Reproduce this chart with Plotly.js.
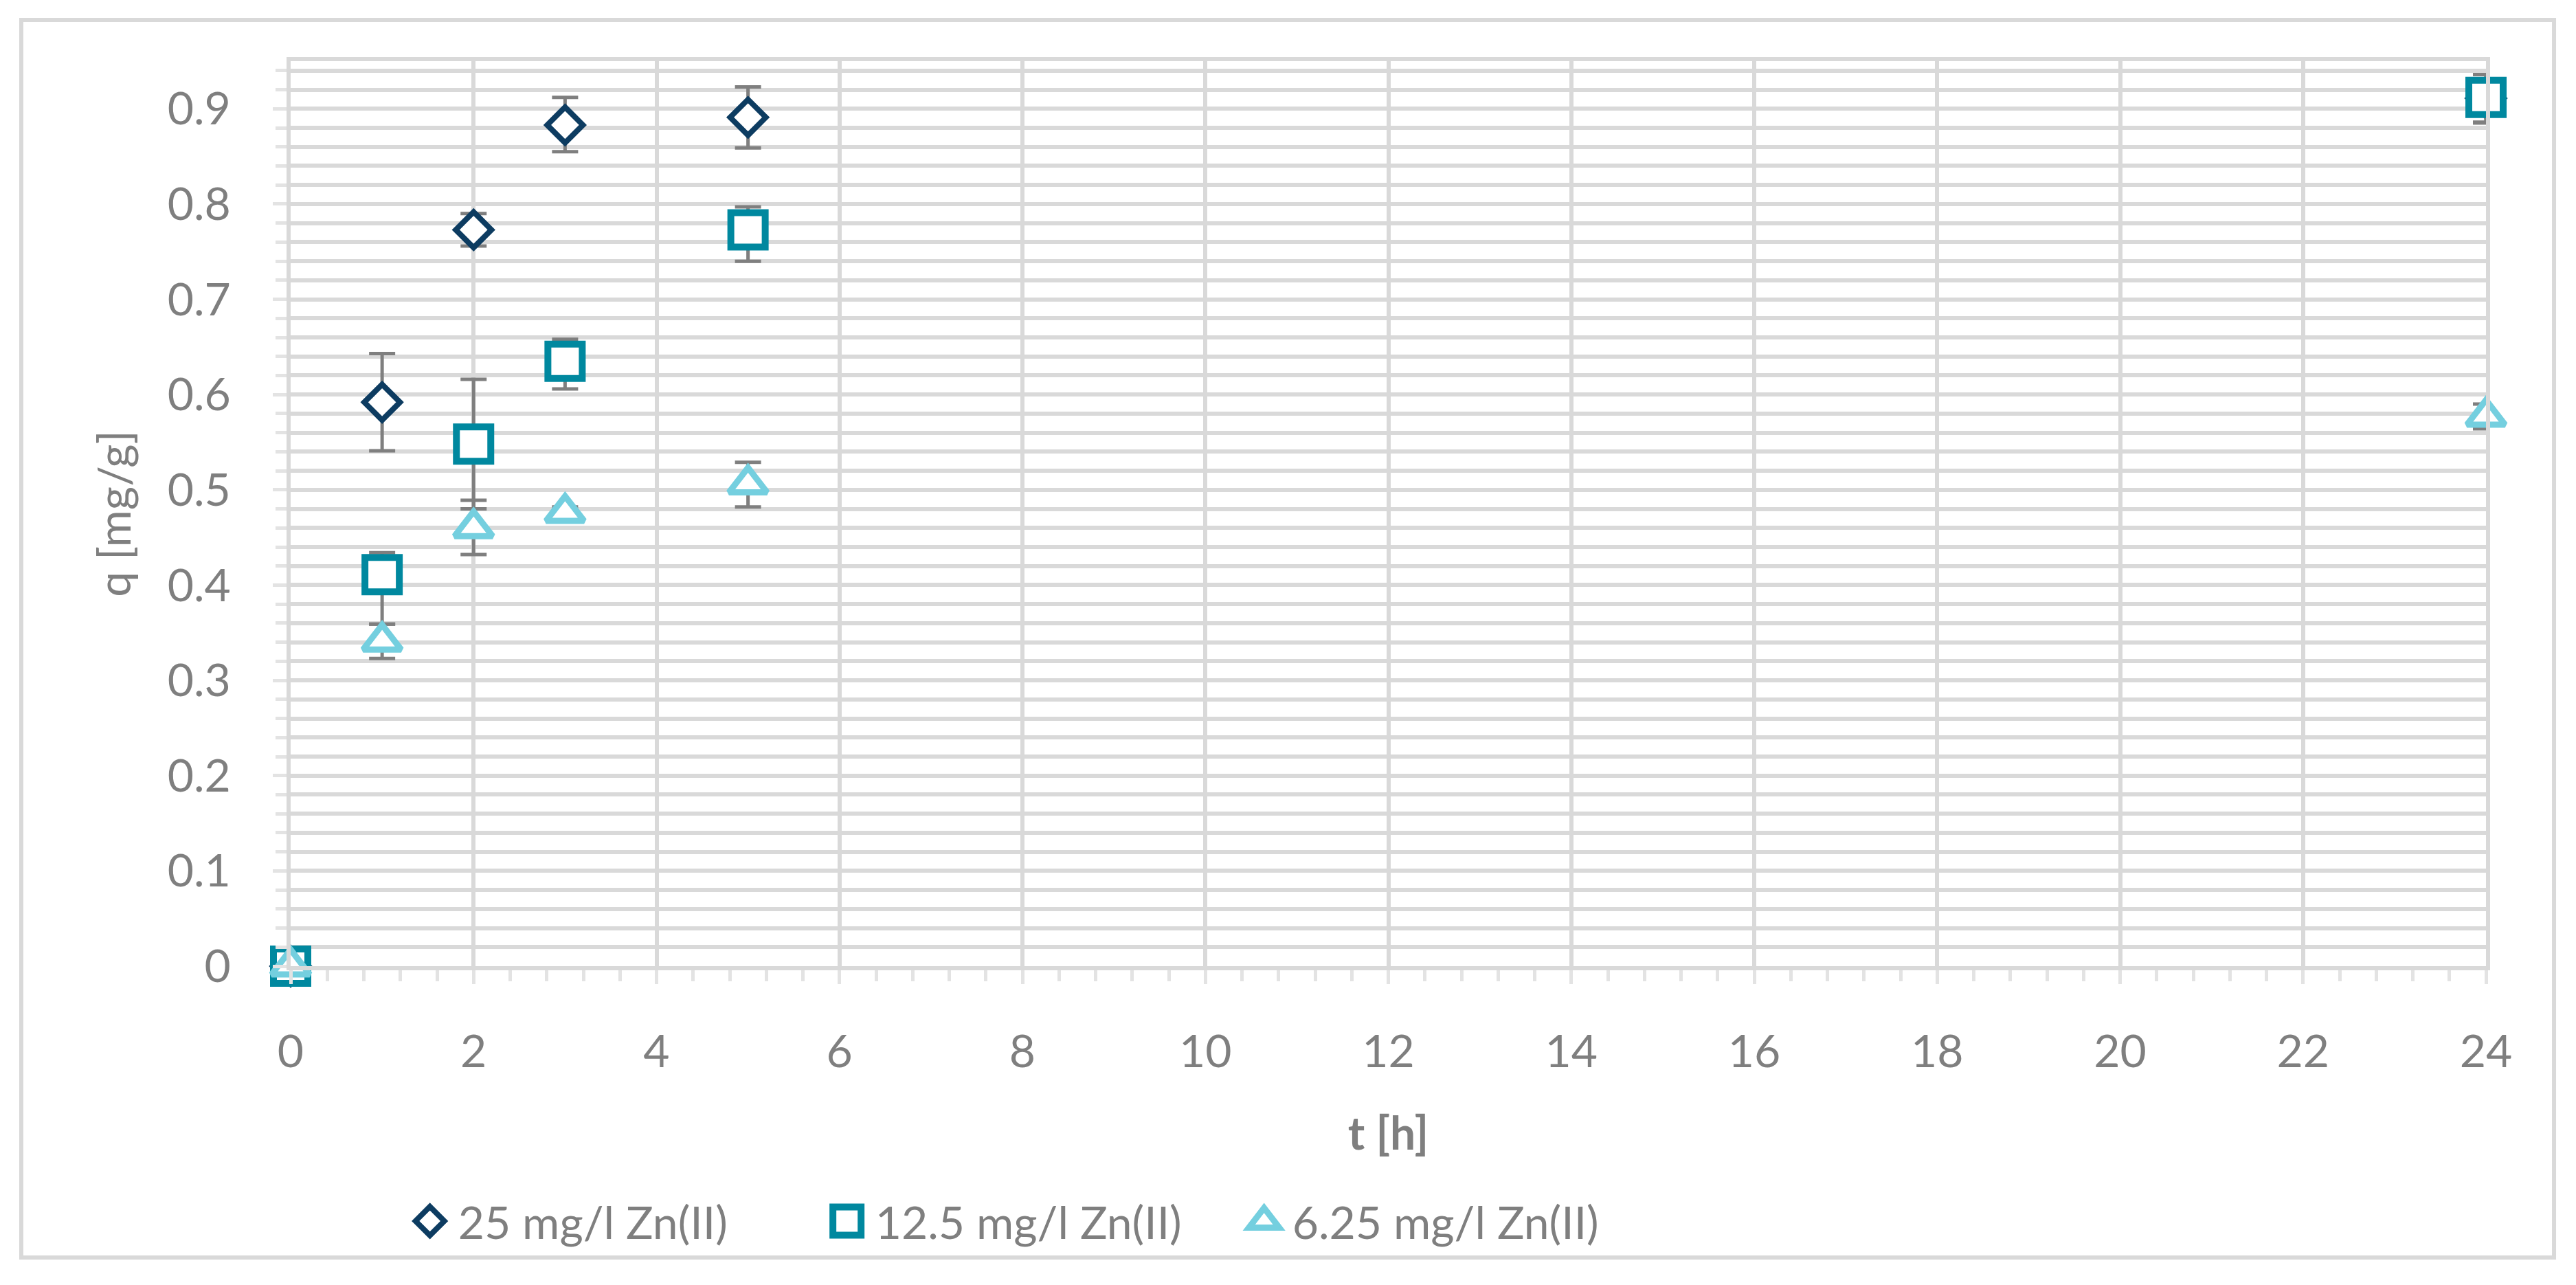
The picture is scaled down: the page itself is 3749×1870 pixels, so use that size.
<!DOCTYPE html>
<html>
<head>
<meta charset="utf-8">
<script src="https://cdn.plot.ly/plotly-3.0.1.min.js"></script>
<style>
html,body{margin:0;padding:0;background:#ffffff;}
#chart{width:3749px;height:1870px;}
</style>
</head>
<body>
<div id="chart"></div>
<script>
// ---- data ----
const timeHours = [0, 1, 2, 3, 5, 24];

const seriesNames = ['25 mg/l Zn(II)', '12.5 mg/l Zn(II)', '6.25 mg/l Zn(II)'];

const q25 = [0, 0.592, 0.773, 0.883, 0.891, 0.911];
const err25Plus = [0, 0.051, 0.017, 0.029, 0.032, 0.025];
const err25Minus = [0, 0.051, 0.017, 0.028, 0.032, 0.025];

const q125 = [0, 0.411, 0.548, 0.635, 0.773, 0.912];
const err125Plus = [0, 0.023, 0.068, 0.023, 0.024, 0.024];
const err125Minus = [0, 0.052, 0.068, 0.029, 0.033, 0.027];

const q625 = [0, 0.341, 0.460, 0.476, 0.506, 0.577];
const err625Plus = [0, 0.018, 0.029, 0.006, 0.023, 0.013];
const err625Minus = [0, 0.018, 0.028, 0.006, 0.024, 0.013];

const xTickValues = [0, 2, 4, 6, 8, 10, 12, 14, 16, 18, 20, 22, 24];
const yTickValues = [0, 0.1, 0.2, 0.3, 0.4, 0.5, 0.6, 0.7, 0.8, 0.9];

// ---- styling ----
const FONT = 'Lato, "Open Sans", sans-serif';
const GREY = '#7f7f7f';
const GRID = '#d9d9d9';
const colors = ['#0d3c61', '#00889f', '#74cfdf'];

function errBar(plus, minus) {
  return {
    type: 'data', symmetric: false, array: plus, arrayminus: minus,
    color: GREY, thickness: 5, width: 19
  };
}

const traces = [
  {
    x: timeHours, y: q25, name: seriesNames[0], type: 'scatter', mode: 'markers',
    cliponaxis: false,
    marker: {symbol: 'diamond', size: 40, color: '#ffffff', line: {color: colors[0], width: 8}},
    error_y: errBar(err25Plus, err25Minus)
  },
  {
    x: timeHours, y: q125, name: seriesNames[1], type: 'scatter', mode: 'markers',
    cliponaxis: false,
    marker: {symbol: 'square', size: 50, color: '#ffffff', line: {color: colors[1], width: 10}},
    error_y: errBar(err125Plus, err125Minus)
  },
  {
    x: timeHours, y: q625, name: seriesNames[2], type: 'scatter', mode: 'markers',
    cliponaxis: false,
    marker: {symbol: 'triangle-up', size: 48, color: '#ffffff', line: {color: colors[2], width: 9}},
    error_y: errBar(err625Plus, err625Minus)
  }
];

const layout = {
  width: 3749, height: 1870,
  margin: {l: 423, r: 131, t: 89, b: 464, pad: 0},
  paper_bgcolor: '#ffffff', plot_bgcolor: '#ffffff',
  font: {family: FONT, size: 66, color: GREY},
  showlegend: true,
  legend: {
    orientation: 'h', x: 0.0506, xanchor: 'left', y: -0.2817, yanchor: 'middle',
    font: {family: FONT, size: 66, color: GREY}, bgcolor: 'rgba(0,0,0,0)',
    itemsizing: 'trace', itemwidth: 72, entrywidth: 520, entrywidthmode: 'pixels'
  },
  xaxis: {
    range: [0, 24], tickvals: xTickValues, ticktext: xTickValues.map(String),
    showgrid: true, gridcolor: GRID, gridwidth: 6,
    zeroline: false, showline: true, mirror: true, linecolor: GRID, linewidth: 6,
    ticks: 'outside', ticklen: 20, tickwidth: 5, tickcolor: '#e3e3e3',
    ticklabelstandoff: 42,
    tickfont: {family: FONT, size: 66, color: GREY},
    minor: {dtick: 0.4, tick0: 0, ticks: 'outside', ticklen: 16, tickwidth: 5, tickcolor: '#e3e3e3', showgrid: false},
    title: {text: '<b>t [h]</b>', font: {family: FONT, size: 66, color: GREY}, standoff: 63}
  },
  yaxis: {
    range: [0, 0.95], tickvals: yTickValues, ticktext: yTickValues.map(String),
    showgrid: true, gridcolor: GRID, gridwidth: 6,
    zeroline: false, showline: true, mirror: true, linecolor: GRID, linewidth: 6,
    ticks: 'outside', ticklen: 20, tickwidth: 5, tickcolor: '#e3e3e3',
    ticklabelstandoff: 48,
    tickfont: {family: FONT, size: 66, color: GREY},
    minor: {dtick: 0.02, tick0: 0, ticks: 'outside', ticklen: 16, tickwidth: 5, tickcolor: '#e3e3e3',
            showgrid: true, gridcolor: GRID, gridwidth: 6},
    title: {text: 'q [mg/g]', font: {family: FONT, size: 66, color: GREY}, standoff: 34}
  },
  shapes: [{
    type: 'rect', xref: 'paper', yref: 'paper', layer: 'below',
    x0: -0.1227, x1: 1.0310, y0: -0.3219, y1: 1.0456,
    line: {color: GRID, width: 6}, fillcolor: 'rgba(0,0,0,0)'
  }]
};

// legend symbols are capped in size by Plotly; enlarge them to match the plot markers
const legendSymbolWidth = [42, 41, 44];
const legendSymbolStroke = [8, 10, 9];

Plotly.newPlot('chart', traces, layout, {staticPlot: true, displayModeBar: false}).then(function (gd) {
  const groups = gd.querySelectorAll('.legend .traces');
  groups.forEach(function (g, i) {
    const p = g.querySelector('path.scatterpts');
    if (!p || i >= legendSymbolWidth.length) return;
    const bb = p.getBBox();
    if (!bb.width) return;
    const s = legendSymbolWidth[i] / bb.width;
    p.setAttribute('transform', (p.getAttribute('transform') || '') + ' scale(' + s + ')');
    p.style.strokeWidth = (legendSymbolStroke[i] / s) + 'px';
  });
});
</script>
</body>
</html>
